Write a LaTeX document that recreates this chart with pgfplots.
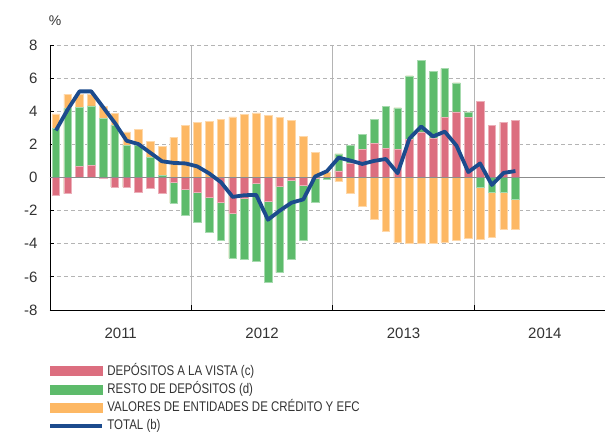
\documentclass[border=0pt]{standalone}
\usepackage{fontspec}
\setmainfont{Liberation Sans}
\newfontfamily\narrowfont[FakeStretch=0.82]{Liberation Sans}
\usepackage{pgfplots}
\pgfplotsset{compat=1.18}
\usepackage{pgfplotstable}

\definecolor{cred}{HTML}{DC6E7F}
\definecolor{cgreen}{HTML}{5DBB6B}
\definecolor{corange}{HTML}{FDB864}
\definecolor{cblue}{HTML}{1C4B8D}
\definecolor{cgrid}{HTML}{B4B4B4}
\definecolor{ctext}{HTML}{333333}

\pgfplotstableread{
x r g o t
0.5 -1.09 2.98 0.86 2.84
1.5 -0.97 4.17 0.86 4.10
2.5 0.65 3.60 0.78 5.20
3.5 0.73 3.60 0.68 5.20
4.5 -0.05 3.55 0.75 4.25
5.5 -0.56 3.17 0.72 3.30
6.5 -0.58 1.96 0.80 2.22
7.5 -0.87 1.95 0.95 2.02
8.5 -0.63 1.21 0.96 1.50
9.5 -0.93 0.14 1.75 0.98
10.5 -0.27 -1.28 2.43 0.88
11.5 -0.70 -1.58 3.13 0.85
12.5 -0.90 -1.83 3.31 0.67
13.5 -1.22 -2.09 3.41 0.25
14.5 -1.49 -2.30 3.51 -0.28
15.5 -2.14 -2.74 3.66 -1.17
16.5 -1.25 -3.70 3.80 -1.07
17.5 -0.36 -4.68 3.90 -1.05
18.5 -1.41 -4.93 3.76 -2.55
19.5 -0.53 -5.21 3.62 -2.00
20.5 -0.16 -4.77 3.46 -1.52
21.5 -0.45 -3.35 2.48 -1.32
22.5 -0.03 -1.44 1.51 0.06
23.5 0.00 -0.12 0.34 0.38
24.5 0.40 1.02 -0.24 1.20
25.5 0.89 1.07 -0.96 1.02
26.5 1.68 0.91 -1.74 0.82
27.5 2.05 1.45 -2.50 1.00
28.5 1.75 2.54 -3.23 1.12
29.5 1.68 2.53 -3.88 0.26
30.5 2.28 3.86 -3.99 2.35
31.5 2.76 4.29 -3.99 3.08
32.5 2.36 4.06 -3.99 2.48
33.5 3.65 2.93 -3.91 2.77
34.5 3.97 1.74 -3.78 1.92
35.5 3.65 0.31 -3.65 0.33
36.5 4.58 -0.59 -3.14 0.85
37.5 3.17 -0.89 -2.69 -0.45
38.5 3.34 -0.89 -2.23 0.28
39.5 3.43 -1.29 -1.81 0.39
}\data

\begin{document}
\begin{tikzpicture}
\useasboundingbox (0,0) rectangle (605pt,434pt);
\begin{axis}[
  at={(50pt,124pt)}, anchor=south west,
  scale only axis, width=555pt, height=265pt,
  xmin=0, xmax=47.1, ymin=-8, ymax=8,
  axis x line*=bottom, axis y line*=left,
  axis line style={black, line width=0.8pt},
  ytick={-8,-6,...,8},
  yticklabels={-8,-6,-4,-2,0,2,4,6,8},
  ymajorgrids=true,
  y grid style={cgrid, dash pattern=on 4pt off 3pt, line width=0.8pt},
  ytick style={black, line width=0.8pt},
  major tick length=4pt,
  xtick={6,18,30,42},
  xticklabels={2011,2012,2013,2014},
  xtick style={draw=none},
  extra x ticks={12,24,36},
  extra x tick labels={},
  extra x tick style={xmajorgrids=true, x grid style={cgrid, solid, line width=0.8pt}, xtick style={draw=black, line width=0.8pt}, major tick length=5pt},
  tick label style={font=\fontsize{15}{18}\selectfont, text=ctext},
  yticklabel style={xshift=-9pt},
  xticklabel style={yshift=-14pt},
  clip=false,
  legend style={at={(-0.004,-0.205)}, anchor=north west, draw=none, fill=none,
    font=\narrowfont\fontsize{14}{16}\selectfont, text=ctext,
    row sep=5.3pt, inner sep=0pt,
    nodes={inner sep=0pt, text height=10.5pt, text depth=2.5pt, anchor=west}},
  legend cell align=left,
]
\addlegendimage{legend image code/.code={\fill[cred] (0pt,-4.4pt) rectangle (52pt,4.4pt); \path (57pt,0pt);}}
\addlegendentry{DEPÓSITOS A LA VISTA (c)}
\addlegendimage{legend image code/.code={\fill[cgreen] (0pt,-4.4pt) rectangle (52pt,4.4pt); \path (57pt,0pt);}}
\addlegendentry{RESTO DE DEPÓSITOS (d)}
\addlegendimage{legend image code/.code={\fill[corange] (0pt,-4.4pt) rectangle (52pt,4.4pt); \path (57pt,0pt);}}
\addlegendentry{VALORES DE ENTIDADES DE CRÉDITO Y EFC}
\addlegendimage{legend image code/.code={\draw[cblue!60!white, line width=4.4pt] (0pt,0pt) -- (52pt,0pt); \draw[cblue, line width=3.4pt] (0pt,0pt) -- (52pt,0pt); \path (57pt,0pt);}}
\addlegendentry{TOTAL (b)}

% positive stacks (drawn back to front)
\addplot[ybar, bar width=0.65, bar shift=0pt, fill=corange, draw=corange!55!white, line width=0.5pt, forget plot]
  table[x=x, y expr={max(\thisrow{r},0)+max(\thisrow{g},0)+max(\thisrow{o},0)}] {\data};
\addplot[ybar, bar width=0.65, bar shift=0pt, fill=cgreen, draw=cgreen!55!white, line width=0.5pt, forget plot]
  table[x=x, y expr={max(\thisrow{r},0)+max(\thisrow{g},0)}] {\data};
\addplot[ybar, bar width=0.65, bar shift=0pt, fill=cred, draw=cred!55!white, line width=0.5pt, forget plot]
  table[x=x, y expr={max(\thisrow{r},0)}] {\data};
% negative stacks
\addplot[ybar, bar width=0.65, bar shift=0pt, fill=corange, draw=corange!55!white, line width=0.5pt, forget plot]
  table[x=x, y expr={min(\thisrow{r},0)+min(\thisrow{g},0)+min(\thisrow{o},0)}] {\data};
\addplot[ybar, bar width=0.65, bar shift=0pt, fill=cgreen, draw=cgreen!55!white, line width=0.5pt, forget plot]
  table[x=x, y expr={min(\thisrow{r},0)+min(\thisrow{g},0)}] {\data};
\addplot[ybar, bar width=0.65, bar shift=0pt, fill=cred, draw=cred!55!white, line width=0.5pt, forget plot]
  table[x=x, y expr={min(\thisrow{r},0)}] {\data};

\draw[black!45, line width=1.6pt] (axis cs:0,0) -- (axis cs:47.1,0);

\addplot[cblue, line width=3.8pt, line join=round, forget plot] table[x=x, y=t] {\data};
\end{axis}
\node[text=ctext, font=\fontsize{14}{16}\selectfont] at (55pt,413pt) {\%};
\end{tikzpicture}
\end{document}
